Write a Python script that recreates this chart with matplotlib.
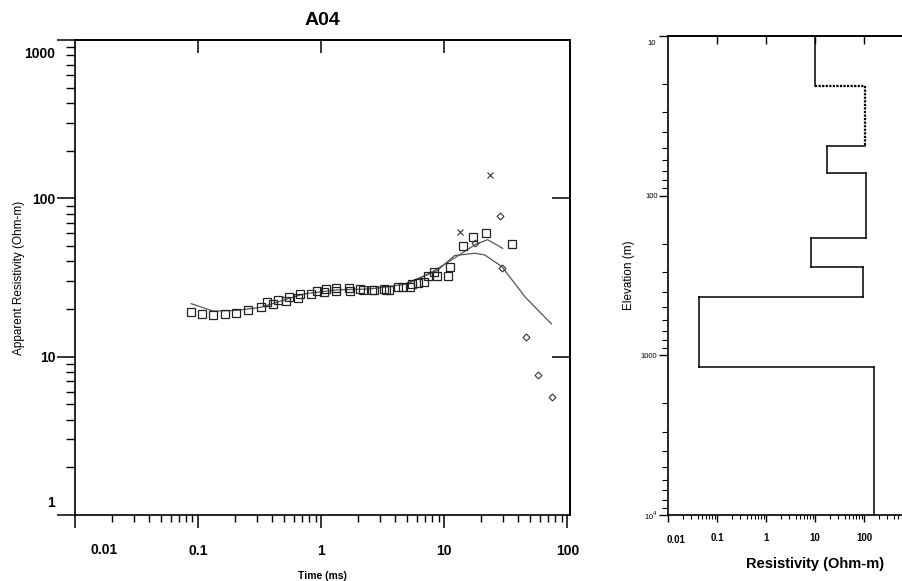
import matplotlib
matplotlib.use('Agg')
import matplotlib.pyplot as plt
import numpy as np
from matplotlib.ticker import FixedLocator, NullLocator, NullFormatter, LogLocator

plt.rcParams['font.family'] = ['Liberation Sans Narrow', 'Liberation Sans', 'DejaVu Sans']

# observed apparent resistivity (squares)
obs_t = [0.088, 0.108, 0.132, 0.164, 0.204, 0.255, 0.322, 0.365, 0.408, 0.446,
         0.515, 0.548, 0.648, 0.673, 0.822, 0.916, 1.06, 1.10, 1.33, 1.33,
         1.67, 1.70, 2.06, 2.18, 2.58, 2.70, 3.26, 3.36, 3.57, 4.18,
         4.59, 5.30, 5.44, 6.09, 6.89, 7.35, 8.32, 8.75, 10.7, 11.2,
         14.2, 17.2, 21.9, 35.7]
obs_rho = [19.1, 18.5, 18.4, 18.5, 18.9, 19.7, 20.7, 22.0, 21.4, 22.7,
           22.4, 23.8, 23.5, 24.7, 24.7, 25.9, 25.5, 26.9, 27.0, 25.9,
           27.0, 25.9, 26.8, 26.2, 26.5, 26.2, 26.8, 26.4, 26.2, 27.5,
           27.5, 27.7, 28.8, 29.3, 29.7, 32.5, 34.1, 32.2, 32.5, 37.1,
           49.8, 56.7, 60.1, 51.3]

# masked points
cross_t = [13.5, 23.3]
cross_rho = [61.0, 141.0]
diam_t = [17.9, 28.2, 29.6, 45.9, 57.9, 74.3]
diam_rho = [52.3, 76.9, 36.4, 13.3, 7.7, 5.57]

# model responses
fit1_t = [0.088, 0.133, 0.207, 0.322, 0.50, 0.72, 1.34, 2.53, 4.68, 8.8,
          12.1, 17.7, 21.3, 29.3, 45.4, 57.9, 74.3]
fit1_rho = [21.6, 19.4, 19.6, 20.5, 22.8, 24.9, 26.4, 26.8, 28.6, 35.0,
            43.5, 45.0, 43.9, 37.1, 23.8, 19.6, 16.1]
fit2_t = [4.68, 5.35, 7.86, 11.2, 18.2, 22.5, 29.8]
fit2_rho = [28.6, 29.5, 34.1, 40.4, 51.5, 54.8, 48.3]

# layered model
layer_top = [10, 20.5, 48.6, 72.4, 185, 281, 432, 1178]
layer_rho = [10, 105, 17.3, 108, 8.2, 97, 0.0435, 162]
model_bottom = 10000

fig = plt.figure(figsize=(9.02, 5.81), dpi=100)

# ---------------- left: sounding curve ----------------
ax = fig.add_axes([75 / 902, 66 / 581, 495 / 902, 475 / 581])
ax.set_xscale('log')
ax.set_yscale('log')
ax.set_xlim(0.01, 105)
ax.set_ylim(1, 1000)

ax.plot(fit1_t, fit1_rho, color='#555555', lw=0.9)
ax.plot(fit2_t, fit2_rho, color='#555555', lw=0.9)
ax.plot(obs_t, obs_rho, ls='none', marker='s', ms=5.5, mfc='none', mec='#222222', mew=0.9)
ax.plot(cross_t, cross_rho, ls='none', marker='x', ms=5, mec='#333333', mew=0.8)
ax.plot(diam_t, diam_rho, ls='none', marker='D', ms=3.5, mfc='none', mec='#333333', mew=0.8)

for s in ax.spines.values():
    s.set_linewidth(1.2)

ax.xaxis.set_major_locator(FixedLocator([0.01, 0.1, 1, 10, 100]))
ax.xaxis.set_minor_locator(LogLocator(base=10, subs=np.arange(2, 10), numticks=20))
ax.xaxis.set_minor_formatter(NullFormatter())
ax.set_xticklabels(['', '0.1', '1', '10', '100'])
ax.yaxis.set_major_locator(FixedLocator([1, 10, 100, 1000]))
ax.yaxis.set_minor_locator(LogLocator(base=10, subs=np.arange(2, 10), numticks=20))
ax.yaxis.set_minor_formatter(NullFormatter())
ax.set_yticklabels(['', '10', '100', ''])

ax.tick_params(axis='x', which='major', direction='out', length=9, width=1.1, pad=12,
               labelsize=10, top=False)
ax.tick_params(axis='x', which='minor', direction='out', length=5, width=1.0, top=False)
ax.tick_params(axis='y', which='major', direction='out', length=13, width=1.1, pad=1,
               labelsize=10, right=False)
ax.tick_params(axis='y', which='minor', direction='out', length=6.5, width=1.0, right=False)
for lab in ax.get_xticklabels() + ax.get_yticklabels():
    lab.set_fontweight('bold')

# corner labels sit inward from their ticks
ax.text(0.0172, -0.074, '0.01', transform=ax.get_xaxis_transform(), ha='center', va='center',
        fontsize=10, fontweight='bold')
ax.text(-0.04, 815, '1000', transform=ax.get_yaxis_transform(), ha='right', va='center',
        fontsize=10, fontweight='bold')
ax.text(-0.04, 1.19, '1', transform=ax.get_yaxis_transform(), ha='right', va='center',
        fontsize=10, fontweight='bold')

top = ax.secondary_xaxis('top')
top.set_xticks([0.1, 1, 10])
top.xaxis.set_minor_locator(NullLocator())
top.xaxis.set_major_formatter(NullFormatter())
top.tick_params(axis='x', direction='in', length=9, width=1.1)
top.spines['top'].set_linewidth(1.2)

right = ax.secondary_yaxis('right')
right.set_yticks([10, 100])
right.yaxis.set_minor_locator(NullLocator())
right.yaxis.set_major_formatter(NullFormatter())
right.tick_params(axis='y', direction='in', length=13, width=1.1)
right.spines['right'].set_linewidth(1.2)

ax.set_title('A04', fontsize=14, fontweight='bold', pad=11)
ax.set_xlabel('Time (ms)', fontsize=7.5, fontweight='bold', labelpad=9)
ax.set_ylabel('Apparent Resistivity (Ohm-m)', fontsize=8.5, labelpad=5)

# ---------------- right: layered model ----------------
ax2 = fig.add_axes([668 / 902, 66 / 581, 294 / 902, 479 / 581])
ax2.set_xscale('log')
ax2.set_yscale('log')
ax2.set_xlim(0.01, 10000)
ax2.set_ylim(10000, 10)

bottoms = layer_top[1:] + [model_bottom]
for i in range(len(layer_rho)):
    ls = (0, (1, 0.6)) if i == 1 else '-'
    lw = 1.6 if i == 1 else 1.1
    ax2.plot([layer_rho[i], layer_rho[i]], [layer_top[i], bottoms[i]], color='black', lw=lw, ls=ls)
    if i > 0:
        ax2.plot([layer_rho[i - 1], layer_rho[i]], [layer_top[i], layer_top[i]],
                 color='black', lw=lw, ls=ls)

for s in ax2.spines.values():
    s.set_linewidth(1.2)

ax2.xaxis.set_major_locator(FixedLocator([0.01, 0.1, 1, 10, 100, 1000, 10000]))
ax2.xaxis.set_minor_locator(LogLocator(base=10, subs=np.arange(2, 10), numticks=20))
ax2.xaxis.set_minor_formatter(NullFormatter())
ax2.set_xticklabels(['', '0.1', '1', '10', '100', '1000', ''])
ax2.yaxis.set_major_locator(FixedLocator([10, 100, 1000, 10000]))
ax2.yaxis.set_minor_locator(LogLocator(base=10, subs=np.arange(2, 10), numticks=20))
ax2.yaxis.set_minor_formatter(NullFormatter())
ax2.set_yticklabels(['', '100', '1000', '10$^4$'])

ax2.tick_params(axis='x', which='major', direction='out', length=5, width=1.0, pad=8,
                labelsize=7, top=False)
ax2.tick_params(axis='x', which='minor', direction='out', length=3, width=0.8, top=False)
ax2.tick_params(axis='y', which='major', direction='out', length=6.5, width=1.0, pad=1,
                labelsize=5.5, right=False)
ax2.tick_params(axis='y', which='minor', direction='out', length=4, width=0.8, right=False)
for lab in ax2.get_xticklabels():
    lab.set_fontweight('bold')

ax2.text(0.0145, -0.053, '0.01', transform=ax2.get_xaxis_transform(), ha='center', va='center',
         fontsize=7, fontweight='bold')
ax2.text(-0.04, 11.1, '10', transform=ax2.get_yaxis_transform(), ha='right', va='center',
         fontsize=5.5)

top2 = ax2.secondary_xaxis('top')
top2.set_xticks([0.1, 1, 10, 100, 1000])
top2.xaxis.set_minor_locator(NullLocator())
top2.xaxis.set_major_formatter(NullFormatter())
top2.tick_params(axis='x', direction='in', length=6, width=1.0)
top2.spines['top'].set_linewidth(1.2)

ax2.set_xlabel('Resistivity (Ohm-m)', fontsize=10.5, fontweight='bold', labelpad=10)
ax2.set_ylabel('Elevation (m)', fontsize=8.5, labelpad=4)

fig.savefig('out.png', dpi=100)
